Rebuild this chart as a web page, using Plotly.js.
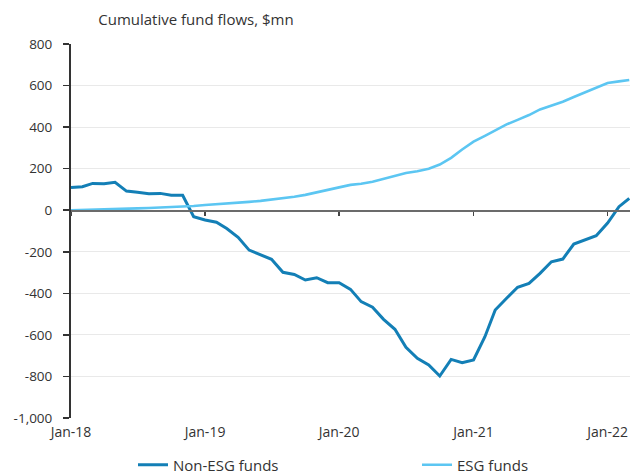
<!DOCTYPE html>
<html>
<head>
<meta charset="utf-8">
<script src="https://cdn.plot.ly/plotly-3.0.1.min.js"></script>
<style>html,body{margin:0;padding:0;background:#fff;}#chart{width:630px;height:475px;}</style>
</head>
<body>
<div id="chart"></div>
<script>
const months = [
 '2018-01-01','2018-02-01','2018-03-01','2018-04-01','2018-05-01','2018-06-01','2018-07-01','2018-08-01','2018-09-01','2018-10-01','2018-11-01','2018-12-01',
 '2019-01-01','2019-02-01','2019-03-01','2019-04-01','2019-05-01','2019-06-01','2019-07-01','2019-08-01','2019-09-01','2019-10-01','2019-11-01','2019-12-01',
 '2020-01-01','2020-02-01','2020-03-01','2020-04-01','2020-05-01','2020-06-01','2020-07-01','2020-08-01','2020-09-01','2020-10-01','2020-11-01','2020-12-01',
 '2021-01-01','2021-02-01','2021-03-01','2021-04-01','2021-05-01','2021-06-01','2021-07-01','2021-08-01','2021-09-01','2021-10-01','2021-11-01','2021-12-01',
 '2022-01-01','2022-02-01','2022-03-01'
];
const nonEsg = [
 109,113,129,127,134,92,86,79,81,72,72,-31,
 -47,-58,-88,-130,-192,-216,-236,-299,-309,-336,-325,-349,
 -349,-381,-440,-467,-525,-573,-660,-713,-745,-798,-718,-734,
 -721,-609,-480,-424,-371,-352,-304,-248,-235,-163,-143,-123,
 -62,17,57
];
const esg = [
 0,1,2,3,5,7,9,11,13,15,17,20,
 25,28,32,36,40,45,51,57,65,74,85,97,
 110,122,127,137,150,163,179,188,200,220,252,292,
 330,358,386,413,435,458,485,503,522,545,568,592,
 612,620,627
];
const xTickVals = ['2018-01-01','2019-01-01','2020-01-01','2021-01-01','2022-01-01'];
const xTickText = ['Jan-18','Jan-19','Jan-20','Jan-21','Jan-22'];
const yTickVals = [800,600,400,200,0,-200,-400,-600,-800,-1000];
const yTickText = ['800','600','400','200','0','-200','-400','-600','-800','-1,000'];
const seriesNames = ['Non-ESG funds','ESG funds'];
const titleText = 'Cumulative fund flows, $mn';

const traces = [
 {x: months, y: nonEsg, name: seriesNames[0], type: 'scatter', mode: 'lines',
  line: {color: '#137fb6', width: 3}, xaxis: 'x', yaxis: 'y', legend: 'legend'},
 {x: months, y: esg, name: seriesNames[1], type: 'scatter', mode: 'lines',
  line: {color: '#5cc6f2', width: 2.6}, xaxis: 'x2', yaxis: 'y', legend: 'legend2'}
];

const fontFam = '"Open Sans", "Noto Sans", sans-serif';
const legendFont = {family: fontFam, size: 15, color: '#333'};
const legY = -(465 - 418) / 374;
const layout = {
 width: 630, height: 475,
 margin: {l: 71, r: 0, t: 44, b: 57, autoexpand: false},
 paper_bgcolor: '#fff', plot_bgcolor: '#fff',
 font: {family: fontFam, size: 13, color: '#333'},
 title: {text: titleText, font: {family: fontFam, size: 15, color: '#333'},
   xref: 'container', yref: 'container', x: 0.156, xanchor: 'left', y: 0.958, yanchor: 'middle'},
 showlegend: true,
 legend: {orientation: 'h', x: (133 - 71) / 559, xanchor: 'left', y: legY, yanchor: 'middle', font: legendFont},
 legend2: {orientation: 'h', x: (417 - 71) / 559, xanchor: 'left', y: legY, yanchor: 'middle', font: legendFont},
 xaxis: {type: 'date', range: ['2018-01-01','2022-03-03'], tickvals: xTickVals, ticktext: xTickText,
   showgrid: false, zeroline: false, showline: false, ticks: '', anchor: 'y', ticklabelstandoff: 4,
   tickfont: {family: fontFam, size: 14, color: '#333'}},
 xaxis2: {type: 'date', matches: 'x', overlaying: 'x', anchor: 'free', position: 1000/1800,
   tickvals: xTickVals, showticklabels: false, showgrid: false, zeroline: false,
   showline: true, linecolor: '#6b6b6b', linewidth: 1.5, ticks: 'outside', ticklen: 4, tickwidth: 1.5, tickcolor: '#444'},
 yaxis: {range: [-1000, 800], tickvals: yTickVals, ticktext: yTickText,
   showgrid: true, gridcolor: '#e9e9e9', gridwidth: 1, zeroline: false,
   showline: true, linecolor: '#333', linewidth: 2, ticks: 'outside', ticklen: 6, tickcolor: '#333', tickwidth: 1.5,
   ticklabelstandoff: 8,
   tickfont: {family: fontFam, size: 13.5, color: '#333'}}
};
Plotly.newPlot('chart', traces, layout, {displayModeBar: false, staticPlot: true});
</script>
</body>
</html>
